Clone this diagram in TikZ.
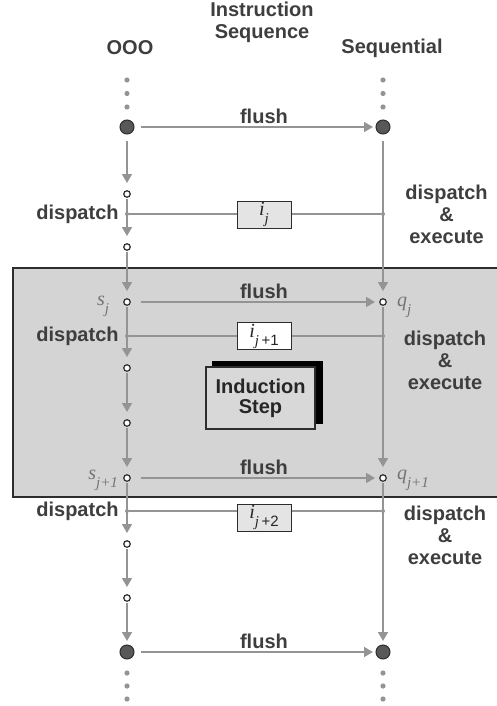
\documentclass[tikz,border=0pt]{standalone}
\usepackage{fontspec}
\setmainfont{Liberation Sans}
\newfontfamily\labelserif{Liberation Serif}
\usetikzlibrary{arrows.meta, positioning, shadows}
\definecolor{linegray}{RGB}{148,148,148}
\definecolor{textgray}{RGB}{62,62,62}
\definecolor{regiongray}{RGB}{212,212,212}
\definecolor{framegray}{RGB}{45,45,45}
\definecolor{instrgray}{RGB}{228,228,228}
\definecolor{dotfill}{RGB}{88,88,88}
\definecolor{namegray}{RGB}{115,115,115}
\newcommand{\lsub}[1]{\raisebox{-0.4em}{\fontsize{15}{15}\selectfont #1}}

\tikzset{
  lbl/.style={text=textgray, font=\bfseries\fontsize{20}{22}\selectfont, align=center, inner sep=2pt},
  mlbl/.style={text=namegray, font=\labelserif\itshape\fontsize{20}{22}\selectfont, inner sep=1pt},
  bigdot/.style={circle, draw=framegray, fill=dotfill, line width=1pt, minimum size=14pt, inner sep=0pt},
  statedot/.style={circle, draw=framegray, fill=white, line width=1.2pt, minimum size=6.5pt, inner sep=0pt},
  junction/.style={circle, fill=linegray, minimum size=4pt, inner sep=0pt},
  flow/.style={draw=linegray, line width=1.6pt, -{Triangle[width=10pt,length=9pt]}, shorten >=11pt},
  dline/.style={draw=linegray, line width=1.4pt},
  instr/.style={draw=framegray, line width=1pt, minimum width=54pt, minimum height=27pt, inner sep=0pt,
    text=black!85, font=\labelserif\itshape\fontsize{20}{22}\selectfont},
  stepbox/.style={draw=framegray, fill=regiongray!90!white, line width=1.2pt, minimum width=109pt, minimum height=62pt,
    align=center, text=black!85, font=\bfseries\fontsize{20}{20}\selectfont,
    copy shadow={shadow xshift=7pt, shadow yshift=5.5pt, fill=black, draw=black}}
}

\begin{document}
\begin{tikzpicture}[x=1pt, y=-1pt]
  \useasboundingbox (0,0) rectangle (497,706);

  % induction region
  \draw[draw=framegray, fill=regiongray, line width=1.5pt] (13,268) rectangle (505,497);

  % headings
  \node[lbl] (title) at (262,22) {Instruction\\Sequence};
  \node[lbl] (ooohd) at (130,48) {OOO};
  \node[lbl] (seqhd) at (392,48) {Sequential};

  % continuation dots
  \foreach \y in {80,93.5,107,673,686,699} {
    \fill[linegray] (127,\y) circle (2.6pt);
    \fill[linegray] (383,\y) circle (2.6pt);
  }

  % OOO column
  \node[bigdot] (o0) at (127,127) {};
  \node[statedot] (o1) at (127,194) {};
  \node[junction] (od1) at (127,214) {};
  \node[statedot] (o2) at (127,247) {};
  \node[statedot] (sj) at (127,302) {};
  \node[junction] (od2) at (127,336) {};
  \node[statedot] (o3) at (127,368) {};
  \node[statedot] (o4) at (127,423) {};
  \node[statedot] (sjj) at (127,478) {};
  \node[junction] (od3) at (127,511) {};
  \node[statedot] (o5) at (127,544) {};
  \node[statedot] (o6) at (127,598) {};
  \node[bigdot] (o7) at (127,652) {};

  % sequential column
  \node[bigdot] (s0) at (383,127) {};
  \node[junction] (sd1) at (383,214) {};
  \node[statedot] (qj) at (383,302) {};
  \node[junction] (sd2) at (383,336) {};
  \node[statedot] (qjj) at (383,478) {};
  \node[junction] (sd3) at (383,511) {};
  \node[bigdot] (s7) at (383,652) {};

  % state names
  \node[mlbl, left=13pt of sj, yshift=-4pt] {s\lsub{j}};
  \node[mlbl, left=4pt of sjj, yshift=-2pt] {s\lsub{j+1}};
  \node[mlbl, right=9pt of qj, yshift=-5pt] {q\lsub{j}};
  \node[mlbl, right=9pt of qjj, yshift=-2pt] {q\lsub{j+1}};

  % dispatch lines
  \draw[dline] (od1) -- (sd1);
  \draw[dline] (od2) -- (sd2);
  \draw[dline] (od3) -- (sd3);
  \node[instr, fill=instrgray] (ij) at (264,214.5) {i\lsub{j}};
  \node[instr, fill=white] (ij1) at (264,336) {i\lsub{j\,\rmfamily\upshape +1}};
  \node[instr, fill=instrgray] (ij2) at (264,517.5) {i\lsub{j\,\rmfamily\upshape +2}};

  \node[lbl, left=4pt of od1] {dispatch};
  \node[lbl, left=4pt of od2] {dispatch};
  \node[lbl, left=4pt of od3] {dispatch};
  \node[lbl, right=18pt of sd1] {dispatch\\\&\\execute};
  \node[lbl] at (445,360) {dispatch\\\&\\execute};
  \node[lbl] at (445,535) {dispatch\\\&\\execute};

  % steps
  \draw[flow, shorten <=14pt] (o0.center) -- (o1.center);
  \draw[flow, shorten <=14pt] (s0.center) -- (qj.center);
  \foreach \a/\b in {o1/o2, o2/sj, sj/o3, o3/o4, o4/sjj, sjj/o5, o5/o6, o6/o7, qj/qjj, qjj/s7}
    \draw[flow, shorten <=5pt] (\a.center) -- (\b.center);

  % flush
  \draw[flow, shorten <=14pt, shorten >=10pt] (o0.center) -- node[lbl, above=1pt, pos=0.535] {flush} (s0.center);
  \draw[flow, shorten <=14pt, shorten >=8pt] (sj.center) -- node[lbl, above=1pt, pos=0.535] {flush} (qj.center);
  \draw[flow, shorten <=14pt, shorten >=8pt] (sjj.center) -- node[lbl, above=1pt, pos=0.535] {flush} (qjj.center);
  \draw[flow, shorten <=14pt, shorten >=10pt] (o7.center) -- node[lbl, above=1pt, pos=0.535] {flush} (s7.center);

  % induction step
  \node[stepbox] (induct) at (260.5,398) {Induction\\Step};
\end{tikzpicture}
\end{document}
